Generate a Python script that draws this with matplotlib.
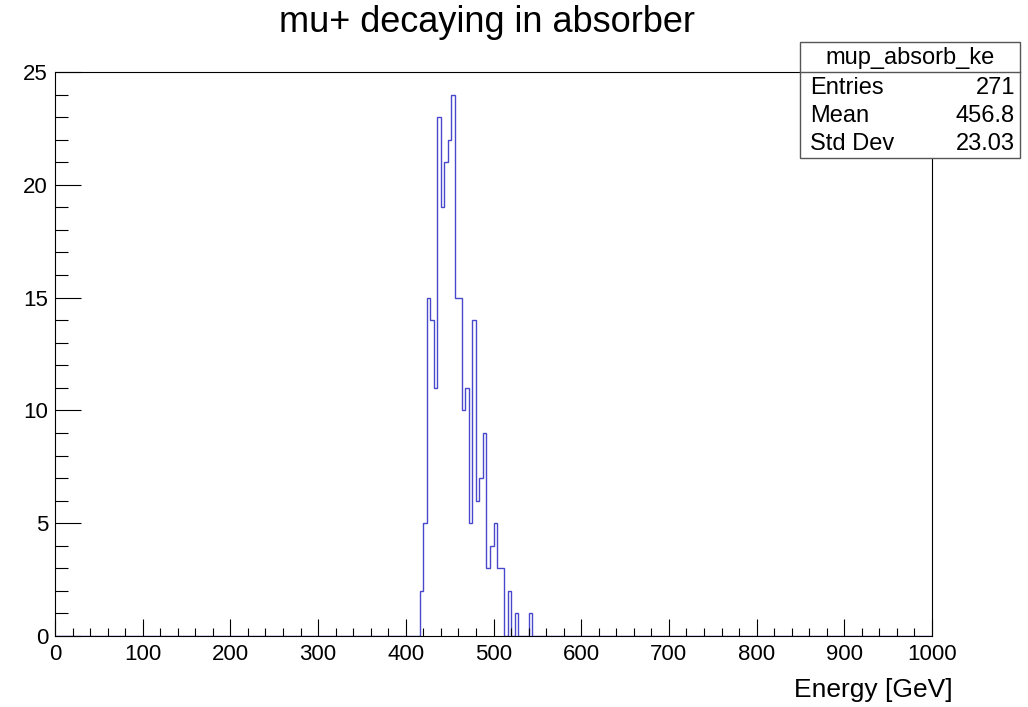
import numpy as np
import matplotlib.pyplot as plt
from matplotlib.patches import Rectangle
from matplotlib.ticker import MultipleLocator

plt.rcParams['font.family'] = ['Liberation Sans', 'DejaVu Sans']

# histogram data (4 GeV bins from 0 to 1000, non-empty region starts at 416)
bin_width = 4
x_min, x_max = 0, 1000
first_bin = 416
counts = [2, 5, 15, 14, 11, 23, 19, 21, 22, 24, 15, 15, 10, 11, 5, 14,
          6, 7, 9, 3, 4, 5, 3, 3, 0, 2, 0, 1, 0, 0, 0, 1]

stats_name = 'mup_absorb_ke'
stats_rows = [('Entries', '271'), ('Mean', '456.8'), ('Std Dev', '23.03')]

edges = np.arange(x_min, x_max + bin_width, bin_width)
values = np.zeros(len(edges) - 1)
i0 = (first_bin - x_min) // bin_width
values[i0:i0 + len(counts)] = counts

W, H = 1028, 707
fig = plt.figure(figsize=(W / 100, H / 100), dpi=100)
ax = fig.add_axes([55 / W, 1 - 636 / H, 877 / W, 564 / H])

ax.stairs(values, edges, color='#4848cc', linewidth=1.0)

ax.set_xlim(x_min, x_max)
ax.set_ylim(0, 25)
ax.xaxis.set_major_locator(MultipleLocator(100))
ax.xaxis.set_minor_locator(MultipleLocator(20))
ax.yaxis.set_major_locator(MultipleLocator(5))
ax.yaxis.set_minor_locator(MultipleLocator(1))
ax.tick_params(axis='both', which='both', direction='in', width=0.8, labelsize=16)
ax.tick_params(axis='x', which='major', length=12, pad=6)
ax.tick_params(axis='x', which='minor', length=6)
ax.tick_params(axis='y', which='major', length=19, pad=5)
ax.tick_params(axis='y', which='minor', length=9.5)
for s in ax.spines.values():
    s.set_linewidth(0.8)

fig.text(953 / W, 1 - 690 / H, 'Energy [GeV]', ha='right', va='center', fontsize=19)
fig.text(487 / W, 1 - 22 / H, 'mu+ decaying in absorber', ha='center', va='center', fontsize=26)

# stats box
bx0, bx1, by0, by1 = 800, 1020, 42, 158
fig.patches.append(Rectangle((bx0 / W, 1 - by1 / H), (bx1 - bx0) / W, (by1 - by0) / H,
                             transform=fig.transFigure, facecolor='white',
                             edgecolor='#555555', linewidth=1, zorder=5))
fig.add_artist(plt.Line2D([bx0 / W, bx1 / W], [1 - 72 / H, 1 - 72 / H],
                          transform=fig.transFigure, color='#555555', linewidth=1, zorder=6))
fig.text((bx0 + bx1) / 2 / W, 1 - 58 / H, stats_name, ha='center', va='center',
         fontsize=17, zorder=7)
for k, (name, val) in enumerate(stats_rows):
    y = 1 - (88 + 28 * k) / H
    fig.text(810 / W, y, name, ha='left', va='center', fontsize=17, zorder=7)
    fig.text(1015 / W, y, val, ha='right', va='center', fontsize=17, zorder=7)

fig.savefig('out.png', dpi=100)
